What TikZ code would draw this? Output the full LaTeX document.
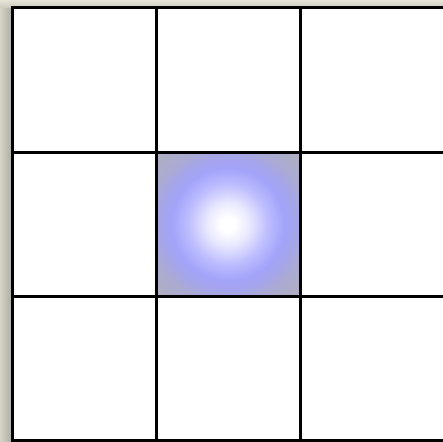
\documentclass[tikz,border=0pt]{standalone}
\definecolor{bgbeige}{RGB}{224,221,208}
\definecolor{bgtop}{RGB}{230,228,215}
\definecolor{bgshadeL}{RGB}{214,212,200}
\definecolor{bgshadeR}{RGB}{172,172,162}
\definecolor{bgtopdark}{RGB}{200,198,186}
\pgfdeclareradialshading{cellglow}{\pgfpoint{0bp}{0bp}}{%
  color(0bp)=(white);
  color(2.5bp)=(white);
  color(7.5bp)=(rgb,255:red,232;green,232;blue,255);
  color(14bp)=(rgb,255:red,188;green,188;blue,255);
  color(19.5bp)=(rgb,255:red,163;green,163;blue,250);
  color(23.5bp)=(rgb,255:red,165;green,165;blue,234);
  color(27bp)=(rgb,255:red,170;green,170;blue,212);
  color(33bp)=(rgb,255:red,174;green,174;blue,196);
  color(50bp)=(rgb,255:red,175;green,175;blue,192)}
\tikzset{
  gridline/.style={line width=3pt, black},
}
\begin{document}
\begin{tikzpicture}[x=1pt,y=-1pt]
  \useasboundingbox (0,0) rectangle (443,441);
  % background
  \fill[bgbeige] (0,0) rectangle (443,441);
  \shade[top color=bgtop, bottom color=bgtopdark] (0,0) rectangle (443,9);
  \shade[left color=bgshadeL, right color=bgshadeR] (0,9) rectangle (12,441);
  % white board
  \fill[white] (12,8) rectangle (446,443);
  % middle cell glow
  \shade[shading=cellglow] (156,152) rectangle (300,296);
  % grid
  \coordinate (tl) at (12,8);
  \coordinate (br) at (446,440);
  \draw[gridline] (tl) rectangle (br);
  \coordinate (v1t) at (156,8);   \coordinate (v1b) at (156,441);
  \coordinate (v2t) at (300,8);   \coordinate (v2b) at (300,441);
  \coordinate (h1l) at (12,152);  \coordinate (h1r) at (446,152);
  \coordinate (h2l) at (12,296);  \coordinate (h2r) at (446,296);
  \draw[gridline] (v1t) -- (v1b);
  \draw[gridline] (v2t) -- (v2b);
  \draw[gridline] (h1l) -- (h1r);
  \draw[gridline] (h2l) -- (h2r);
\end{tikzpicture}
\end{document}
